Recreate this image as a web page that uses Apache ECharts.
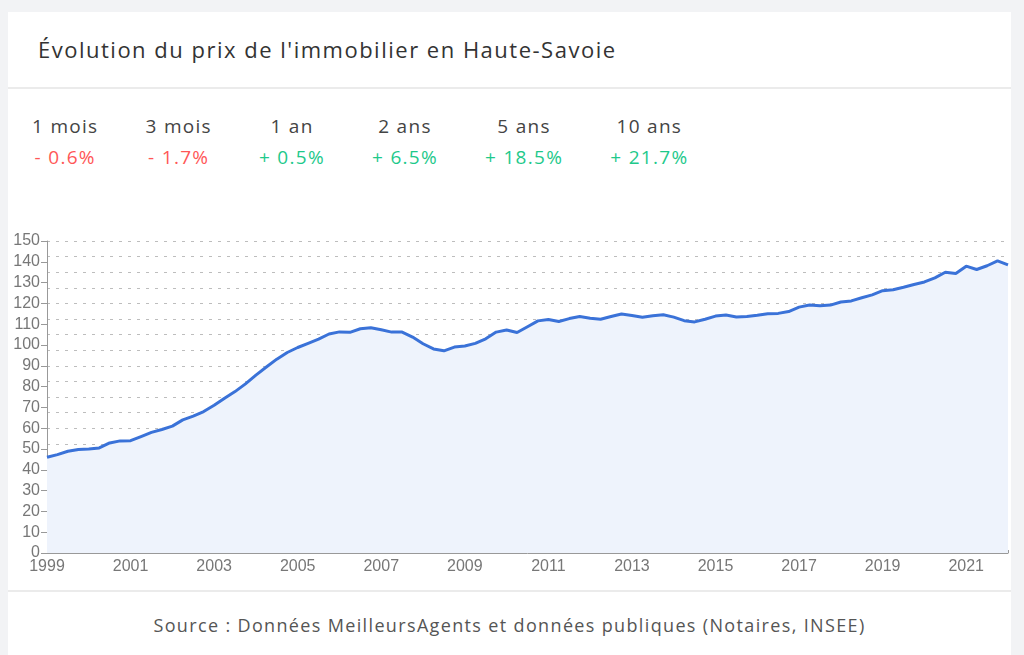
<!DOCTYPE html>
<html lang="fr">
<head>
<meta charset="utf-8">
<title>Évolution du prix de l'immobilier en Haute-Savoie</title>
<script src="https://cdn.jsdelivr.net/npm/echarts@6/dist/echarts.min.js"></script>
<style>
  html, body { margin: 0; padding: 0; }
  body {
    width: 1024px; height: 655px; overflow: hidden; position: relative;
    background: #f2f3f5; font-family: "Open Sans", Roboto, "Liberation Sans", Arial, sans-serif;
  }
  #card {
    position: absolute; left: 8px; top: 12px; width: 1003px; height: 700px;
    background: #fff;
  }
  #title {
    position: absolute; left: 30px; top: 22px; font-size: 22px; color: #333;
    letter-spacing: 1.5px; white-space: nowrap;
  }
  .sep { position: absolute; left: 0; width: 100%; height: 2px; background: #ebebeb; }
  #stats {
    position: absolute; left: 24px; top: 101px; display: flex; gap: 47px;
  }
  .stat { text-align: center; font-size: 19px; letter-spacing: 1.3px; white-space: nowrap; }
  .stat .lbl { color: #444; height: 31px; }
  .stat .val.neg { color: #ff5757; }
  .stat .val.pos { color: #1ec98b; }
  #source {
    position: absolute; left: 0; width: 100%; top: 601px; text-align: center;
    font-size: 18px; letter-spacing: 1.35px; color: #555;
  }
  #chart { position: absolute; left: 0; top: 0; width: 1024px; height: 655px; }
</style>
</head>
<body>
<div id="card">
  <div id="title">Évolution du prix de l'immobilier en Haute-Savoie</div>
  <div class="sep" style="top:75px"></div>
  <div id="stats"></div>
  <div class="sep" style="top:578px"></div>
  <div id="source">Source : Données MeilleursAgents et données publiques (Notaires, INSEE)</div>
</div>
<div id="chart"></div>
<script>
"use strict";

//
// Data
//
const stat_labels = ["1 mois", "3 mois", "1 an", "2 ans", "5 ans", "10 ans"];
const stat_values = [-0.6, -1.7, 0.5, 6.5, 18.5, 21.7];

// quarterly index, 1999 T1 .. 2022 T1
const start_year = 1999;
const price_index = [
  46, 47.3, 48.9, 49.8, 50, 50.5, 52.9, 53.9,
  54, 56, 58, 59.4, 61, 64, 65.8, 68,
  71, 74.4, 77.6, 81.3, 85.5, 89.4, 93.2, 96.4,
  98.8, 100.8, 102.8, 105.3, 106.3, 106.1, 107.8, 108.3,
  107.3, 106.2, 106.2, 103.8, 100.6, 98.1, 97.2, 99,
  99.5, 100.8, 103, 106.2, 107.2, 106, 108.8, 111.6,
  112.3, 111.3, 112.7, 113.7, 112.9, 112.4, 113.7, 114.9,
  114.2, 113.3, 114.1, 114.5, 113.4, 111.7, 111.1, 112.4,
  113.9, 114.4, 113.5, 113.7, 114.3, 115, 115.2, 116.1,
  118.2, 119.2, 118.9, 119.2, 120.7, 121.2, 122.7, 124.1,
  126.1, 126.6, 127.8, 129.1, 130.3, 132.3, 135, 134.4,
  137.9, 136.3, 138.1, 140.4, 138.5,
];
const quarters = price_index.map(
  (v, i) => `${start_year + Math.floor(i / 4)}-T${(i % 4) + 1}`
);

//
// Stats block
//
const html_stats = document.getElementById("stats");
for (let i = 0; i < stat_labels.length; i++) {
  const v = stat_values[i];
  const el = document.createElement("div");
  el.className = "stat";
  el.innerHTML =
    `<div class="lbl">${stat_labels[i]}</div>` +
    `<div class="val ${v < 0 ? "neg" : "pos"}">${v < 0 ? "-" : "+"} ${Math.abs(v).toFixed(1)}%</div>`;
  html_stats.appendChild(el);
}

//
// Chart
//
const axis_font = { fontFamily: "Liberation Sans, Arial, sans-serif", fontSize: 16, color: "#777" };
const is_label_tick = (i) => i % 8 === 0;

const chart = echarts.init(document.getElementById("chart"));
chart.setOption({
  animation: false,
  grid: { left: 47, right: 16, top: 241, bottom: 102 },
  xAxis: {
    type: "category",
    data: quarters,
    boundaryGap: false,
    axisLine: { lineStyle: { color: "#999" } },
    axisTick: { interval: (i) => i % 4 === 0, inside: true, length: 3, lineStyle: { color: "#999" } },
    axisLabel: {
      ...axis_font,
      interval: is_label_tick,
      margin: 6,
      formatter: (v) => v.slice(0, 4),
    },
    splitLine: { show: false },
  },
  yAxis: [
    {
      type: "value",
      min: 0,
      max: 150,
      interval: 10,
      axisLine: { show: true, lineStyle: { color: "#999" } },
      axisTick: { show: true, length: 6, lineStyle: { color: "#999" } },
      axisLabel: { ...axis_font, margin: 7 },
      splitLine: { show: false },
    },
    {
      type: "value",
      min: 0,
      max: 150,
      interval: 7.5,
      position: "left",
      axisLine: { show: false },
      axisTick: { show: false },
      axisLabel: { show: false },
      splitLine: { lineStyle: { color: "#bdbdbd", type: [3, 6], width: 1 } },
    },
  ],
  series: [
    {
      type: "line",
      data: price_index,
      yAxisIndex: 0,
      symbol: "none",
      lineStyle: { color: "#3a72d8", width: 3 },
      areaStyle: { color: "#eef3fc", opacity: 1 },
      z: 1,
    },
  ],
});
</script>
</body>
</html>
